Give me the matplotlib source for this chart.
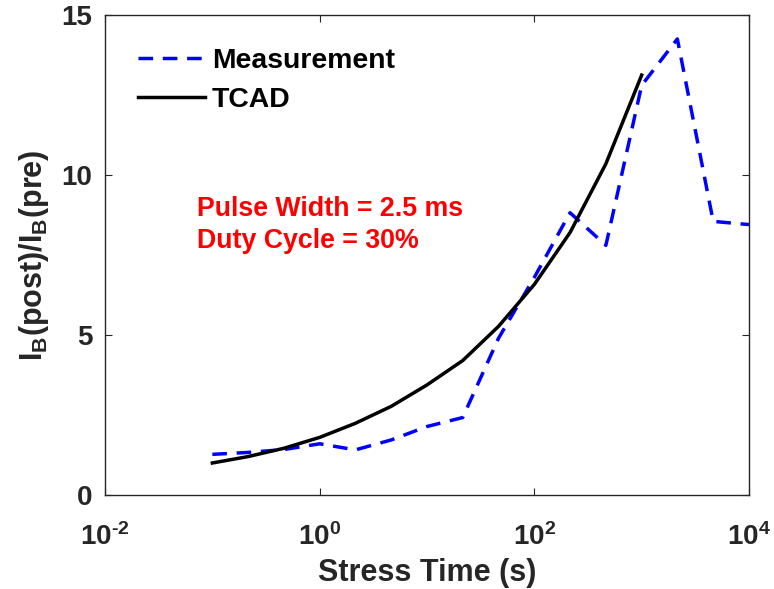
import numpy as np
import matplotlib
matplotlib.use('Agg')
import matplotlib.pyplot as plt

### data ############################
tcad_t = [0.1, 0.215, 0.464, 1, 2.15, 4.64, 10, 21.5, 46.4, 100, 215, 464, 1000]
tcad_y = [1.0, 1.2, 1.46, 1.8, 2.24, 2.77, 3.44, 4.2, 5.27, 6.58, 8.2, 10.35, 13.12]

meas_t = [0.1, 0.215, 0.464, 1, 2.15, 4.64, 10, 21.5, 46.4, 100, 215, 464,
          1000, 2150, 4640, 10000]
meas_y = [1.27, 1.33, 1.42, 1.6, 1.41, 1.72, 2.14, 2.42, 4.9, 6.8, 8.82, 7.8,
          12.8, 14.25, 8.55, 8.45]

xticks = [1e-2, 1e0, 1e2, 1e4]
xtick_labels = [r'$\mathbf{10^{\text{-}2}}$', r'$\mathbf{10^{0}}$', r'$\mathbf{10^{2}}$', r'$\mathbf{10^{4}}$']
yticks = [0, 5, 10, 15]

### fonts #####
plt.rcParams['font.family'] = ['Liberation Sans', 'DejaVu Sans']
plt.rcParams['font.weight'] = 'bold'
plt.rcParams['mathtext.fontset'] = 'custom'
plt.rcParams['mathtext.rm'] = 'Liberation Sans:bold'
plt.rcParams['mathtext.bf'] = 'Liberation Sans:bold'
plt.rcParams['mathtext.it'] = 'Liberation Sans:bold'

ink = '#262626'

fig = plt.figure(figsize=(7.74, 5.89), dpi=100)
ax = fig.add_axes([0.1357, 0.1596, 0.832, 0.815])

ax.plot(meas_t, meas_y, color=(0, 0, 1), lw=2.5, ls=(0, (4.2, 2.8)), label='Measurement')
ax.plot(tcad_t, tcad_y, color='black', lw=2.5, label='TCAD')

ax.set_xscale('log')
ax.set_xlim(1e-2, 1e4)
ax.set_ylim(0, 15)
ax.set_xticks(xticks)
ax.set_xticklabels(xtick_labels)
ax.set_yticks(yticks)
ax.minorticks_off()
ax.tick_params(direction='in', top=True, right=True, length=5, width=0.8,
               colors=ink, labelsize=20)
ax.tick_params(axis='x', pad=20)
ax.tick_params(axis='y', pad=9)
for lab in ax.get_yticklabels():
    lab.set_fontweight('bold')
for s in ax.spines.values():
    s.set_color(ink)
    s.set_linewidth(1.0)

ax.set_xlabel('Stress Time (s)', fontsize=22, fontweight='bold', color=ink, labelpad=5)
ax.set_ylabel(r'$\mathbf{I_B(post)/I_B(pre)}$', fontsize=22, color=ink, labelpad=8)

ax.text(0.143, 0.5625, 'Pulse Width = 2.5 ms\nDuty Cycle = 30%', transform=ax.transAxes,
        color='red', fontsize=19.3, fontweight='bold', linespacing=1.3, va='center')

leg = ax.legend(loc='upper left', frameon=False, fontsize=20.4, handlelength=2.37,
                handletextpad=0.25, borderaxespad=0, borderpad=0,
                bbox_to_anchor=(0.051, 0.931), labelspacing=0.47)

fig.savefig('out.png', dpi=100)
plt.close()
